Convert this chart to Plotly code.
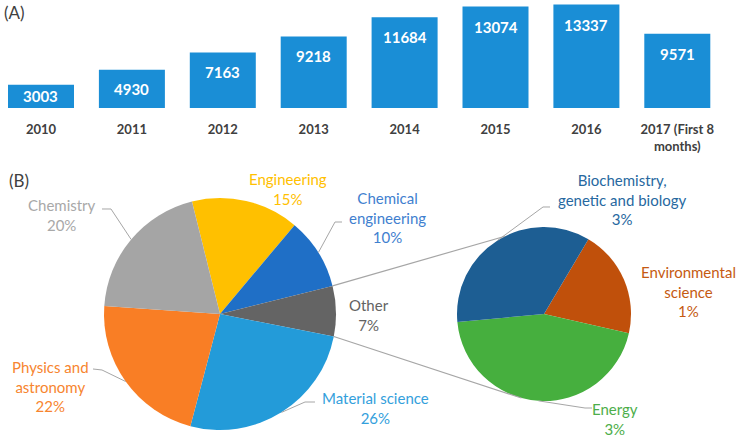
import math
import plotly.graph_objects as go

# ---------------- data ----------------
years = ["2010", "2011", "2012", "2013", "2014", "2015", "2016", "2017 (First 8<br>months)"]
publications = [3003, 4930, 7163, 9218, 11684, 13074, 13337, 9571]

main_labels = ["Engineering", "Chemical<br>engineering", "Other", "Material science",
               "Physics and<br>astronomy", "Chemistry"]
main_values = [15, 10, 7, 26, 22, 20]
main_colors = ["#FFC000", "#1F6FC6", "#646464", "#239BD9", "#F97E25", "#A5A5A5"]
main_text_colors = ["#FFC000", "#3F80CF", "#636363", "#34A0DC", "#F7852F", "#A8A8A8"]

sec_labels = ["Environmental<br>science", "Energy", "Biochemistry,<br>genetic and biology"]
sec_shares = [20, 45, 35]          # share of the "Other" slice
sec_pct_text = ["1%", "3%", "3%"]
sec_colors = ["#C0500B", "#46AF3E", "#1D5E93"]
sec_text_colors = ["#C55A11", "#4DAE4A", "#2768A0"]

W, H = 739, 437
FONT = "Lato"

def P(x, y):
    return x / W, 1 - y / H

fig = go.Figure()

# ---------------- (A) bar chart ----------------
y_top = 13918
fig.add_trace(go.Bar(
    x=years, y=publications, marker=dict(color="#1A8ED6", line=dict(width=0)),
    xaxis="x", yaxis="y", showlegend=False, hoverinfo="y"))

bar_area_px = 108
px_per_unit = bar_area_px / y_top
annotations = []
for i, v in enumerate(publications):
    shift = -min(20, v * px_per_unit / 2)
    annotations.append(dict(x=i, y=v, xref="x", yref="y", text=f"<b>{v}</b>",
                            showarrow=False, yanchor="middle", yshift=shift,
                            font=dict(family=FONT, size=15, color="white")))

# ---------------- (B) pie of pie ----------------
main_c, main_r = (220, 314), 116
sec_c, sec_r = (544, 314), 87
main_rot = -14
sec_rot = 30.7

def dom(c, r):
    x0, y1 = P(c[0] - r, c[1] - r)
    x1, y0 = P(c[0] + r, c[1] + r)
    return dict(x=[x0, x1], y=[y0, y1])

fig.add_trace(go.Pie(
    values=main_values, labels=[l.replace("<br>", " ") for l in main_labels],
    marker=dict(colors=main_colors, line=dict(width=0)),
    sort=False, direction="clockwise", rotation=main_rot,
    textinfo="none", domain=dom(main_c, main_r), showlegend=False))
fig.add_trace(go.Pie(
    values=sec_shares, labels=[l.replace("<br>", " ") for l in sec_labels],
    marker=dict(colors=sec_colors, line=dict(width=0)),
    sort=False, direction="clockwise", rotation=sec_rot,
    textinfo="none", domain=dom(sec_c, sec_r), showlegend=False))

def slice_angles(values, rot):
    tot = sum(values)
    out, a = [], rot
    for v in values:
        b = a + 360 * v / tot
        out.append((a, b))
        a = b
    return out

def on_circle(c, r, ang):
    t = math.radians(ang)
    return c[0] + r * math.sin(t), c[1] - r * math.cos(t)

main_ang = slice_angles(main_values, main_rot)
sec_ang = slice_angles(sec_shares, sec_rot)

# label positions (pixel centres, anchor)
main_label_pos = [(288, 189, "center"), (387, 218, "center"), (369, 315, "center"),
                  (375, 408, "center"), (50, 386, "center"), (62, 215, "center")]
sec_label_pos = [(738, 291, "right"), (615, 419, "center"), (622, 199, "center")]
for lab, v, tc, (lx, ly, xa) in zip(main_labels, main_values, main_text_colors, main_label_pos):
    x, y = P(lx, ly)
    annotations.append(dict(x=x, y=y, xref="paper", yref="paper", text=f"{lab}<br>{v}%",
                            showarrow=False, align="center", xanchor=xa, yanchor="middle",
                            font=dict(family=FONT, size=15, color=tc)))
for lab, pct, tc, (lx, ly, xa) in zip(sec_labels, sec_pct_text, sec_text_colors, sec_label_pos):
    x, y = P(lx, ly)
    annotations.append(dict(x=x, y=y, xref="paper", yref="paper", text=f"{lab}<br>{pct}",
                            showarrow=False, align="center", xanchor=xa, yanchor="middle",
                            font=dict(family=FONT, size=15, color=tc)))

annotations.append(dict(x=P(2, 0)[0], y=P(0, 0)[1], xref="paper", yref="paper", text="(A)",
                        showarrow=False, xanchor="left", yanchor="top",
                        font=dict(family=FONT, size=17, color="#404040")))
annotations.append(dict(x=P(7, 0)[0], y=P(0, 168)[1], xref="paper", yref="paper", text="(B)",
                        showarrow=False, xanchor="left", yanchor="top",
                        font=dict(family=FONT, size=17, color="#404040")))

shapes = []
def poly(points, color="#A6A6A6", width=1):
    pts = [P(*p) for p in points]
    path = "M " + " L ".join(f"{x:.5f},{y:.5f}" for x, y in pts)
    shapes.append(dict(type="path", path=path, xref="paper", yref="paper",
                       line=dict(color=color, width=width)))

# connectors from the "Other" slice to the secondary pie
oth_a, oth_b = main_ang[2]
poly([on_circle(main_c, main_r, oth_a), on_circle(sec_c, sec_r, -26.6)], width=1.2)
poly([on_circle(main_c, main_r, oth_b), on_circle(sec_c, sec_r, 195)], width=1.2)

# leader lines (start at slice mid-angle)
def mid(a):
    return (a[0] + a[1]) / 2
leader_elbows = {1: [(335, 222), (342, 222)], 3: [(305, 402), (315, 402)],
                 4: [(102, 370), (93, 369)], 5: [(111, 209), (102, 209)]}
for i, pts in leader_elbows.items():
    poly([on_circle(main_c, main_r, mid(main_ang[i]))] + pts)
sec_elbows = {1: [(585, 408), (592, 408)], 2: [(543, 207), (550, 207)]}
for i, pts in sec_elbows.items():
    poly([on_circle(sec_c, sec_r, mid(sec_ang[i]))] + pts)

x0 = 41 - 0.4 * 90.9
x1 = 41 + 7.6 * 90.9
fig.update_layout(
    width=W, height=H, margin=dict(l=0, r=0, t=0, b=0),
    paper_bgcolor="white", plot_bgcolor="white",
    bargap=0.274,
    xaxis=dict(type="category", domain=[x0 / W, x1 / W], range=[-0.4, 7.6], showgrid=False,
               zeroline=False, showline=False, ticks="outside", ticklen=9,
               tickcolor="rgba(0,0,0,0)",
               tickfont=dict(family=FONT, size=13, color="#404040", weight="bold"),
               anchor="y", fixedrange=True),
    yaxis=dict(domain=[1 - bar_area_px / H, 1], range=[0, y_top], visible=False,
               fixedrange=True),
    annotations=annotations, shapes=shapes,
    font=dict(family=FONT),
)

fig.write_html("out.html", config={"displayModeBar": False},
               post_script="document.body.style.margin='0';")
